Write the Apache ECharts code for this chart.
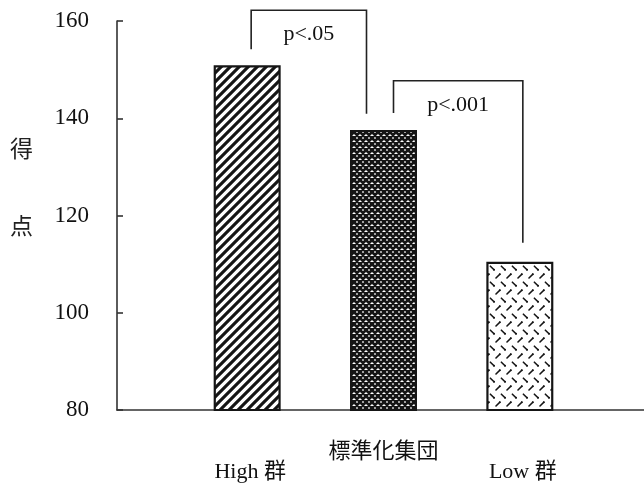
<!DOCTYPE html>
<html>
<head>
<meta charset="utf-8">
<script src="https://cdn.jsdelivr.net/npm/echarts@6/dist/echarts.min.js"></script>
<style>html,body{margin:0;padding:0;background:#fff}#c{width:644px;height:483px}</style>
</head>
<body>
<div id="c"></div>
<script>
// ---- data ----
var categories = ['High 群', '標準化集団', 'Low 群'];
var scores = [150.9, 137.6, 110.5];
var yTicks = { min: 80, max: 160, interval: 20 };
var yAxisName = ['得', '点'];
// brackets: [fromIndex, toIndex, leftLegBottom, barTop, rightLegBottom, label]
var brackets = [
  [0, 1, 154.2, 162.2, 140.9, 'p<.05'],
  [1, 2, 141.1, 147.7, 114.4, 'p<.001']
];

var serif = "'Liberation Serif','Noto Sans CJK JP',serif";
var ink = '#111';

function tile(w, h, draw) {
  var c = document.createElement('canvas');
  c.width = w; c.height = h;
  var g = c.getContext('2d');
  g.fillStyle = '#fff'; g.fillRect(0, 0, w, h);
  g.strokeStyle = '#151515'; g.fillStyle = '#151515';
  draw(g, w, h);
  return c;
}
var pStripe = tile(9, 9, function (g, s) {
  g.lineWidth = 3.1; g.lineCap = 'square';
  g.beginPath();
  g.moveTo(0, s); g.lineTo(s, 0);
  g.moveTo(-s / 2, s / 2); g.lineTo(s / 2, -s / 2);
  g.moveTo(s / 2, s * 1.5); g.lineTo(s * 1.5, s / 2);
  g.stroke();
});
var pCross = tile(6, 6, function (g, s) {
  g.lineWidth = 2.7;
  g.beginPath();
  for (var k = -1; k <= 1; k++) {
    g.moveTo(k * s, s); g.lineTo(k * s + s, 0);
    g.moveTo(k * s, 0); g.lineTo(k * s + s, s);
  }
  g.stroke();
});
var pDash = tile(11, 16, function (g) {
  g.lineWidth = 1.6; g.lineCap = 'round';
  g.beginPath();
  g.moveTo(1.0, 6.0); g.lineTo(4.8, 2.2);
  g.moveTo(6.4, 10.2); g.lineTo(10.0, 13.8);
  g.stroke();
  g.beginPath(); g.arc(4.8, 2.2, 1.0, 0, Math.PI * 2); g.fill();
  g.beginPath(); g.arc(10.0, 13.8, 1.0, 0, Math.PI * 2); g.fill();
});
var patterns = [pStripe, pCross, pDash];

var chart = echarts.init(document.getElementById('c'), null, { renderer: 'canvas' });

var barData = scores.map(function (v, i) {
  return {
    value: v,
    itemStyle: { color: { image: patterns[i], repeat: 'repeat' }, borderColor: '#151515', borderWidth: 2.2 }
  };
});

var bracketOffsets = [[4, -17], [10, 3]];

chart.setOption({
  animation: false,
  backgroundColor: '#fff',
  grid: [
    { left: 117, right: 0, top: 21, bottom: 73 },
    { left: 179, width: 409, top: 21, bottom: 73 }
  ],
  xAxis: [
    { type: 'value', gridIndex: 0, min: 0, max: 1, axisLine: { show: true, lineStyle: { color: '#333', width: 1.6 } },
      axisTick: { show: false }, axisLabel: { show: false }, splitLine: { show: false } },
    { type: 'category', gridIndex: 1, data: categories, axisLine: { show: false }, axisTick: { show: false },
      axisLabel: {
        margin: 31, color: ink, fontFamily: serif, fontSize: 22, interval: 0,
        formatter: function (v, i) { return i === 1 ? '{u|' + v + '}' : '{d|' + v + '}'; },
        rich: {
          u: { fontFamily: serif, fontSize: 22, color: ink },
          d: { fontFamily: serif, fontSize: 22, color: ink, padding: [20, 0, 0, 6] }
        }
      } }
  ],
  yAxis: [
    { type: 'value', gridIndex: 0, min: yTicks.min, max: yTicks.max, interval: yTicks.interval,
      axisLine: { show: true, lineStyle: { color: '#333', width: 1.6 } },
      axisTick: { show: true, inside: true, length: 6, lineStyle: { color: '#333', width: 1.6 } },
      axisLabel: { margin: 28, color: ink, fontFamily: serif, fontSize: 23 },
      splitLine: { show: false } },
    { type: 'value', gridIndex: 1, min: yTicks.min, max: yTicks.max, interval: yTicks.interval, show: false }
  ],
  graphic: [
    { type: 'text', left: 10, top: 137, style: { text: yAxisName[0], font: "23px 'Noto Sans CJK JP'", fill: '#222' } },
    { type: 'text', left: 10, top: 214, style: { text: yAxisName[1], font: "23px 'Noto Sans CJK JP'", fill: '#222' } }
  ],
  series: [
    { type: 'bar', xAxisIndex: 1, yAxisIndex: 1, data: barData, barWidth: 67 },
    { type: 'custom', xAxisIndex: 1, yAxisIndex: 1, clip: false, z: 5,
      data: brackets,
      renderItem: function (params, api) {
        var i = params.dataIndex;
        var off = bracketOffsets[i];
        var a = api.coord([api.value(0), api.value(2)]);
        var t = api.coord([api.value(0), api.value(3)]);
        var b = api.coord([api.value(1), api.value(4)]);
        var xl = a[0] + off[0], xr = b[0] + off[1];
        return {
          type: 'group',
          children: [
            { type: 'polyline', shape: { points: [[xl, a[1]], [xl, t[1]], [xr, t[1]], [xr, b[1]]] },
              style: { stroke: '#222', lineWidth: 1.6, fill: null } },
            { type: 'text', style: { text: brackets[i][5], x: (xl + xr) / 2, y: t[1] + 24,
              align: 'center', verticalAlign: 'middle', font: "22px 'Liberation Serif'", fill: ink } }
          ]
        };
      }
    }
  ]
});
</script>
</body>
</html>
